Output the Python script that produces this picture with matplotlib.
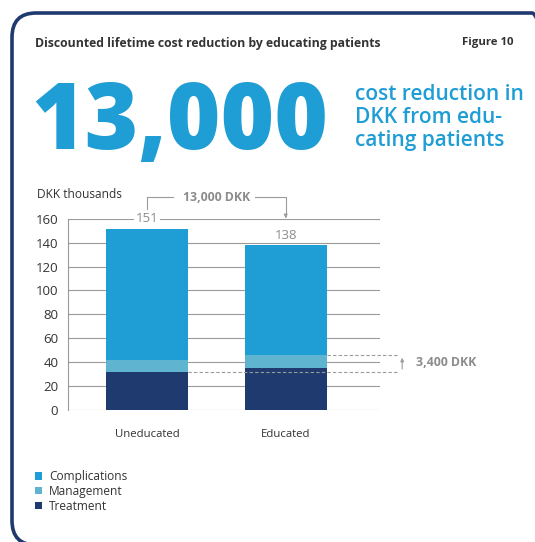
import matplotlib.pyplot as plt
from matplotlib.patches import FancyBboxPatch, Patch
import numpy as np

# ---------------------------
# DATA
# ---------------------------
groups = ["Uneducated", "Educated"]
treatment = [32, 35]
management = [10, 11]
complications = [109, 92]
totals = [151, 138]
yticks = [0, 20, 40, 60, 80, 100, 120, 140, 160]

C_COMP = "#1f9dd5"
C_MAN = "#5fb4cf"
C_TREAT = "#1f3a6e"
GRID = "#9a9a9a"
GREY_TXT = "#8c8c8c"
DARK_TXT = "#333333"

plt.rcParams['font.family'] = ['Open Sans', 'DejaVu Sans']

fig = plt.figure(figsize=(5.35, 5.42), dpi=100)
W, H = 535, 542


def fx(px):
    return px / W


def fy(py):
    return 1 - py / H


# ---------------------------
# FRAME + HEADER
# ---------------------------
# frame runs off the right edge, only the top-right corner shows
frame = FancyBboxPatch((fx(12), fy(545)), fx(556) - fx(12), fy(13) - fy(545),
                       boxstyle="round,pad=0,rounding_size=0.045",
                       transform=fig.transFigure, facecolor="none",
                       edgecolor=C_TREAT, linewidth=2.6)
fig.patches.append(frame)

fig.text(fx(35), fy(43), "Discounted lifetime cost reduction by educating patients",
         fontsize=8.8, fontweight="bold", color=DARK_TXT, va="center", ha="left")
fig.text(fx(513), fy(43), "Figure 10", fontsize=8.2, fontweight="bold",
         color=DARK_TXT, va="center", ha="right")

fig.text(fx(31), fy(149), "13,000", fontsize=66, fontweight="heavy",
         color=C_COMP, va="baseline", ha="left")
fig.text(fx(355), fy(146), "cost reduction in\nDKK from edu-\ncating patients",
         fontsize=15, fontweight="semibold", color=C_COMP, va="baseline",
         ha="left", linespacing=1.12)

# ---------------------------
# BAR CHART
# ---------------------------
ax = fig.add_axes([fx(68), fy(410), fx(380) - fx(68), fy(218.7) - fy(410)])
x = np.arange(len(groups))
w = 0.59
treat = np.array(treatment)
man = np.array(management)
comp = np.array(complications)

ax.bar(x, treat, w, color=C_TREAT, zorder=3)
ax.bar(x, man, w, bottom=treat, color=C_MAN, zorder=3)
ax.bar(x, comp, w, bottom=treat + man, color=C_COMP, zorder=3)

ax.set_xlim(-0.57, 1.68)
ax.set_ylim(0, 160)
ax.set_yticks(yticks)
ax.yaxis.grid(True, color=GRID, linewidth=0.8, zorder=0)
ax.set_axisbelow(True)
for s in ["top", "right", "bottom"]:
    ax.spines[s].set_visible(False)
ax.spines["left"].set_color(GRID)
ax.spines["left"].set_linewidth(0.8)
ax.tick_params(axis="y", length=0, labelsize=9.5, labelcolor=DARK_TXT, pad=7)
ax.tick_params(axis="x", length=0, labelsize=8.2, labelcolor=DARK_TXT, pad=14)
ax.set_xticks(x)
ax.set_xticklabels(groups)

ax.text(-0.57 - 0.225, 180, "DKK thousands", fontsize=8.6, color=DARK_TXT,
        ha="left", va="center", clip_on=False)

# total labels
ax.text(x[0], 160, str(totals[0]), fontsize=9.5, color=GREY_TXT, ha="center",
        va="center", bbox=dict(facecolor="white", edgecolor="none", pad=1.5), zorder=4)
ax.text(x[1], totals[1] + 8, str(totals[1]), fontsize=9.5, color=GREY_TXT,
        ha="center", va="center", zorder=4)

# 13,000 DKK bracket
yb = 178
ax.plot([x[0], x[0], x[0] + 0.19], [164, yb, yb], color=GRID, lw=0.8, clip_on=False)
ax.plot([x[1] - 0.22, x[1], x[1]], [yb, yb, 162], color=GRID, lw=0.8, clip_on=False)
ax.annotate("", xy=(x[1], 160.5), xytext=(x[1], 164),
            arrowprops=dict(arrowstyle="-|>", color=GRID, lw=0.8, mutation_scale=5),
            annotation_clip=False)
ax.text((x[0] + x[1]) / 2, yb, "13,000 DKK", fontsize=8.8, fontweight="bold",
        color=GREY_TXT, ha="center", va="center", clip_on=False)

# 3,400 DKK marker
low = treat[0]
high = treat[1] + man[1]
xr = 1.82
ax.plot([x[0] + w / 2, xr], [low, low], color=GRID, lw=0.8, ls=(0, (3, 2)),
        clip_on=False, zorder=4)
ax.plot([x[1] + w / 2, xr], [high, high], color=GRID, lw=0.8, ls=(0, (3, 2)),
        clip_on=False, zorder=4)
ax.annotate("", xy=(xr + 0.02, high), xytext=(xr + 0.02, low),
            arrowprops=dict(arrowstyle="-|>", color=GRID, lw=0.8, mutation_scale=5),
            annotation_clip=False)
ax.text(xr + 0.12, (low + high) / 2 + 1, "3,400 DKK", fontsize=8.8, fontweight="bold",
        color=GREY_TXT, ha="left", va="center", clip_on=False)

# legend
legend_elements = [
    Patch(facecolor=C_COMP, label="Complications"),
    Patch(facecolor=C_MAN, label="Management"),
    Patch(facecolor=C_TREAT, label="Treatment"),
]
fig.legend(handles=legend_elements, loc="upper left", bbox_to_anchor=(fx(35), fy(470)),
           frameon=False, fontsize=8.6, handlelength=0.6, handleheight=0.6,
           handletextpad=0.6, labelspacing=0.15, borderpad=0, borderaxespad=0,
           labelcolor=DARK_TXT)

fig.savefig("out.png", dpi=100)
